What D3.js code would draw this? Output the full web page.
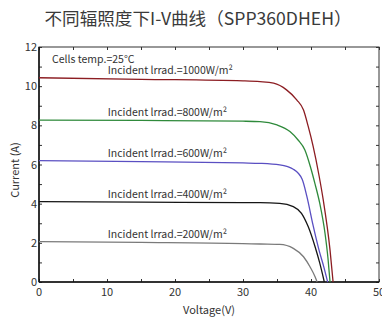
<!DOCTYPE html>
<html>
<head>
<meta charset="utf-8">
<script src="https://cdn.jsdelivr.net/npm/d3@7"></script>
<style>
  body { margin: 0; background: #fff; }
  text { font-family: "Noto Sans CJK SC", "Noto Sans", sans-serif; fill: #333; }
</style>
</head>
<body>
<svg id="iv" width="382" height="318"></svg>
<script>
// I-V curves, one pair of arrays per irradiance level
var irradiance = [1000, 800, 600, 400, 200];
var colors = ["#8c1d22", "#2f8a3b", "#5a4fc2", "#151515", "#7a7a7a"];

var v1000 = [0, 15, 30, 32.5, 34.5, 36.4, 37.9, 38.9, 39.6, 40.3, 41.2, 41.8, 42.8, 43.25];
var i1000 = [10.43, 10.35, 10.27, 10.23, 10.15, 9.81, 9.3, 8.78, 7.93, 6.95, 5.4, 4.19, 1.63, 0];

var v800 = [0, 15, 30, 32.5, 35, 36.9, 38.1, 39.1, 39.9, 40.6, 41.3, 42.06, 42.5, 42.8];
var i800 = [8.27, 8.25, 8.21, 8.19, 8.02, 7.68, 7.25, 6.74, 5.9, 5.0, 4.0, 2.49, 1.2, 0];

var v600 = [0, 15, 30, 32.5, 35.4, 37.4, 38.7, 39.4, 40.3, 41.2, 41.9, 42.45];
var i600 = [6.2, 6.15, 6.08, 6.06, 5.98, 5.76, 5.25, 4.36, 2.9, 1.6, 0.75, 0];

var v400 = [0, 15, 30, 32.5, 35.4, 37.4, 38.6, 39.6, 40.6, 41.3, 41.96];
var i400 = [4.1, 4.08, 4.05, 4.05, 4.02, 3.85, 3.51, 2.82, 1.8, 0.95, 0];

var v200 = [0, 15, 30, 32.5, 35.4, 37.4, 38.9, 39.85, 40.6, 40.9];
var i200 = [2.06, 2.02, 1.96, 1.94, 1.92, 1.72, 1.29, 0.78, 0.27, 0];

var xTicks = [0, 10, 20, 30, 40, 50];
var yTicks = [0, 2, 4, 6, 8, 10, 12];

var volts = [v1000, v800, v600, v400, v200],
    amps = [i1000, i800, i600, i400, i200];

var svg = d3.select("#iv"),
    margin = {top: 47, right: 3, bottom: 36, left: 39},
    width = +svg.attr("width") - margin.left - margin.right,
    height = +svg.attr("height") - margin.top - margin.bottom;

var x = d3.scaleLinear().domain([0, 50]).range([0, width]),
    y = d3.scaleLinear().domain([0, 12]).range([height, 0]);

svg.append("text")
    .attr("x", 198)
    .attr("y", 25)
    .attr("text-anchor", "middle")
    .style("font-size", "17.6px")
    .style("fill", "#3a3a3a")
    .text("不同辐照度下I-V曲线（SPP360DHEH）");

var g = svg.append("g")
    .attr("transform", "translate(" + margin.left + "," + margin.top + ")");

// frame with small inward ticks on all four sides
g.append("rect")
    .attr("width", width)
    .attr("height", height)
    .attr("fill", "none")
    .attr("stroke", "#333")
    .attr("stroke-width", 1);

var minorX = d3.range(0, 51, 5),
    minorY = d3.range(0, 13, 1);

g.append("g").attr("class", "axis axis--x")
    .attr("transform", "translate(0," + height + ")")
    .call(d3.axisBottom(x).tickValues(minorX).tickSize(-3).tickFormat(""));
g.append("g").attr("class", "axis axis--top")
    .call(d3.axisTop(x).tickValues(minorX).tickSize(-3).tickFormat(""));
g.append("g").attr("class", "axis axis--y")
    .call(d3.axisLeft(y).tickValues(minorY).tickSize(-3).tickFormat(""));
g.append("g").attr("class", "axis axis--right")
    .attr("transform", "translate(" + width + ",0)")
    .call(d3.axisRight(y).tickValues(minorY).tickSize(-3).tickFormat(""));

g.selectAll(".axis .domain").remove();
g.selectAll(".axis line").attr("stroke", "#333");

g.append("line")
    .attr("x1", 0).attr("x2", 0).attr("y1", 0).attr("y2", height)
    .attr("stroke", "#111").attr("stroke-width", 1.5);
g.append("line")
    .attr("x1", 0).attr("x2", width).attr("y1", height).attr("y2", height)
    .attr("stroke", "#111").attr("stroke-width", 1.5);

g.selectAll(".xlab")
  .data(xTicks)
  .enter().append("text")
    .attr("class", "xlab")
    .attr("x", function(d) { return x(d); })
    .attr("y", height + 14)
    .attr("text-anchor", "middle")
    .style("font-size", "11px")
    .text(function(d) { return d; });

g.selectAll(".ylab")
  .data(yTicks)
  .enter().append("text")
    .attr("class", "ylab")
    .attr("x", -2)
    .attr("y", function(d) { return y(d) + 4; })
    .attr("text-anchor", "end")
    .style("font-size", "11px")
    .text(function(d) { return d; });

svg.append("text")
    .attr("x", margin.left + width / 2)
    .attr("y", 314)
    .attr("text-anchor", "middle")
    .style("font-size", "11px")
    .text("Voltage(V)");

svg.append("text")
    .attr("transform", "translate(19,170) rotate(-90)")
    .attr("text-anchor", "middle")
    .style("font-size", "11px")
    .text("Current (A)");

var line = d3.line()
    .x(function(d) { return x(d[0]); })
    .y(function(d) { return y(d[1]); })
    .curve(d3.curveMonotoneX);

irradiance.forEach(function(level, k) {
  var pts = d3.zip(volts[k], amps[k]);
  g.append("path")
      .datum(pts)
      .attr("fill", "none")
      .attr("stroke", colors[k])
      .attr("stroke-width", 1.3)
      .attr("d", line);

  g.append("text")
      .attr("x", x(10.1))
      .attr("y", y(amps[k][0]) - 4)
      .style("font-size", "10.5px")
      .text("Incident lrrad.=" + level + "W/m²");
});

g.append("text")
    .attr("x", 13)
    .attr("y", 16)
    .style("font-size", "10.5px")
    .text("Cells temp.=25°C");
</script>
</body>
</html>
